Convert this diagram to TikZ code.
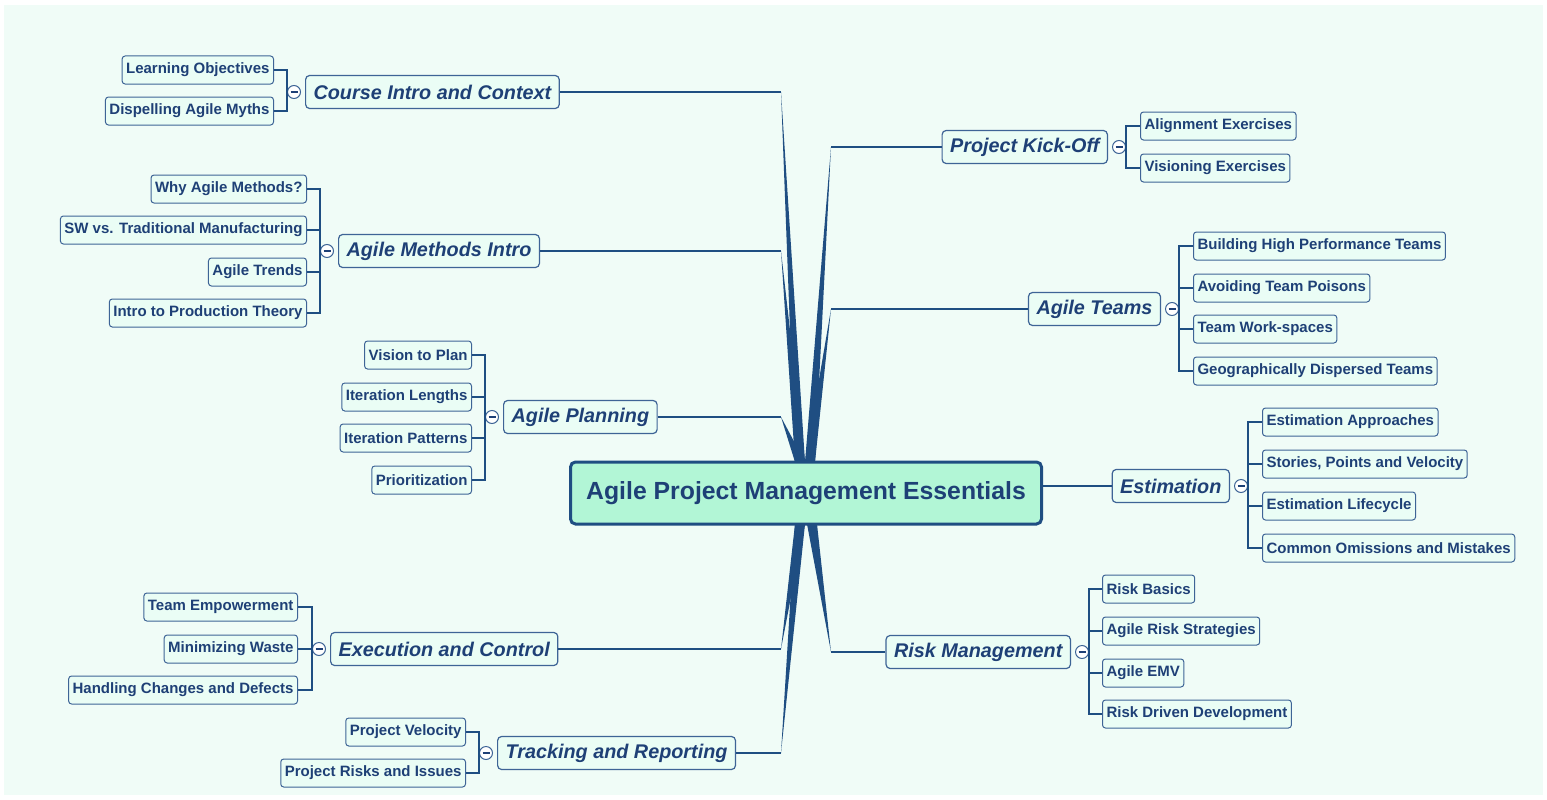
\documentclass[tikz,border=0pt]{standalone}
\usepackage{fontspec}
\setmainfont{Liberation Sans}
\usetikzlibrary{positioning}

\definecolor{mapbg}{RGB}{240,252,247}
\definecolor{mapline}{RGB}{31,78,130}
\definecolor{maptext}{RGB}{30,64,118}
\definecolor{centrefill}{RGB}{178,246,214}
\definecolor{boxfill}{RGB}{234,253,245}
\definecolor{boxline}{RGB}{62,100,150}

% tapering branch from the central topic to an elbow
\newcommand{\taper}[2]{\fill[mapline] ([xshift=-5bp]#1) -- (#2) -- ([xshift=5bp]#1) -- cycle;}

\tikzset{
  centre/.style={draw=mapline, line width=3bp, fill=centrefill, rounded corners=5bp,
    minimum width=471bp, minimum height=62bp, text=maptext,
    font=\fontsize{24.8bp}{28bp}\selectfont\bfseries},
  topic/.style={draw=boxline, line width=1.2bp, fill=boxfill, rounded corners=4bp,
    minimum height=33bp, inner xsep=8bp, text=maptext,
    font=\fontsize{19.8bp}{23bp}\selectfont\bfseries\itshape},
  sub/.style={draw=boxline, line width=1bp, fill=boxfill, rounded corners=3bp,
    minimum height=28bp, inner xsep=4bp, text=maptext,
    font=\fontsize{15bp}{17bp}\selectfont\bfseries},
  fold/.style={circle, draw=boxline, fill=white, line width=1bp, minimum size=13bp, inner sep=0pt,
    path picture={\draw[maptext, line width=1.3bp] ([xshift=-3.5bp]path picture bounding box.center)
      -- ([xshift=3.5bp]path picture bounding box.center);}},
  link/.style={draw=mapline, line width=1.3bp},
}

\begin{document}
\begin{tikzpicture}[x=1bp, y=-1bp]
  \useasboundingbox (0,0) rectangle (1547,799);
  \fill[white] (0,0) rectangle (1547,799);
  \fill[mapbg] (4,5) rectangle (1543,795);

  % central topic
  \node[centre] (apm) at (806,493) {Agile Project Management Essentials};

  % main topics
  \node[topic, anchor=west] (intro) at (305,92) {Course Intro and Context};
  \node[topic, anchor=west] (methods) at (338,251) {Agile Methods Intro};
  \node[topic, anchor=west] (planning) at (503,417) {Agile Planning};
  \node[topic, anchor=west] (execution) at (330,649) {Execution and Control};
  \node[topic, anchor=west] (tracking) at (497,753) {Tracking and Reporting};
  \node[topic, anchor=east] (kickoff) at (1108,147) {Project Kick-Off};
  \node[topic, anchor=east] (teams) at (1161,309) {Agile Teams};
  \node[topic, anchor=east] (estimation) at (1230,486) {Estimation};
  \node[topic, anchor=east] (risk) at (1071,652) {Risk Management};

  \node[fold, left=4bp of intro] (intro-c) {};
  \node[fold, left=4bp of methods] (methods-c) {};
  \node[fold, left=4bp of planning] (planning-c) {};
  \node[fold, left=4bp of execution] (execution-c) {};
  \node[fold, left=4bp of tracking] (tracking-c) {};
  \node[fold, right=4bp of kickoff] (kickoff-c) {};
  \node[fold, right=4bp of teams] (teams-c) {};
  \node[fold, right=4bp of estimation] (estimation-c) {};
  \node[fold, right=4bp of risk] (risk-c) {};

  % branches from the centre
  \coordinate (top-l) at (800,462);
  \coordinate (top-r) at (810,462);
  \coordinate (bot-l) at (800,524);
  \coordinate (bot-r) at (812,524);
  \coordinate (intro-e) at (781,92);
  \coordinate (methods-e) at (781,251);
  \coordinate (planning-e) at (781,417);
  \coordinate (execution-e) at (781,649);
  \coordinate (tracking-e) at (781,753);
  \coordinate (kickoff-e) at (831,147);
  \coordinate (teams-e) at (831,309);
  \coordinate (risk-e) at (831,652);

  \draw[link] (intro.east) -- (intro-e);
  \draw[link] (methods.east) -- (methods-e);
  \draw[link] (planning.east) -- (planning-e);
  \draw[link] (execution.east) -- (execution-e);
  \draw[link] (tracking.east) -- (tracking-e);
  \draw[link] (kickoff.west) -- (kickoff-e);
  \draw[link] (teams.west) -- (teams-e);
  \draw[link] (risk.west) -- (risk-e);
  \draw[link] (estimation.west) -- (estimation.west -| apm.east);
  \taper{top-l}{intro-e}
  \taper{top-l}{methods-e}
  \taper{top-l}{planning-e}
  \taper{top-r}{kickoff-e}
  \taper{top-r}{teams-e}
  \taper{bot-l}{execution-e}
  \taper{bot-l}{tracking-e}
  \taper{bot-r}{risk-e}

  % subtopics
  \foreach \y/\t [count=\i] in {70/Learning Objectives, 111/Dispelling Agile Myths}{
    \node[sub, anchor=east] (intro-\i) at (274,\y) {\t};
    \draw[link] (intro-c.west) |- (intro-\i.east);
  }
  \foreach \y/\t [count=\i] in {189/Why Agile Methods?, 230/SW vs. Traditional Manufacturing,
      272/Agile Trends, 313/Intro to Production Theory}{
    \node[sub, anchor=east] (methods-\i) at (307,\y) {\t};
    \draw[link] (methods-c.west) |- (methods-\i.east);
  }
  \foreach \y/\t [count=\i] in {355/Vision to Plan, 397/Iteration Lengths,
      438/Iteration Patterns, 480/Prioritization}{
    \node[sub, anchor=east] (planning-\i) at (472,\y) {\t};
    \draw[link] (planning-c.west) |- (planning-\i.east);
  }
  \foreach \y/\t [count=\i] in {607/Team Empowerment, 649/Minimizing Waste,
      690/Handling Changes and Defects}{
    \node[sub, anchor=east] (execution-\i) at (298,\y) {\t};
    \draw[link] (execution-c.west) |- (execution-\i.east);
  }
  \foreach \y/\t [count=\i] in {732/Project Velocity, 773/Project Risks and Issues}{
    \node[sub, anchor=east] (tracking-\i) at (466,\y) {\t};
    \draw[link] (tracking-c.west) |- (tracking-\i.east);
  }
  \foreach \y/\t [count=\i] in {126/Alignment Exercises, 168/Visioning Exercises}{
    \node[sub, anchor=west] (kickoff-\i) at (1140,\y) {\t};
    \draw[link] (kickoff-c.east) |- (kickoff-\i.west);
  }
  \foreach \y/\t [count=\i] in {246/Building High Performance Teams, 288/Avoiding Team Poisons,
      329/Team Work-spaces, 371/Geographically Dispersed Teams}{
    \node[sub, anchor=west] (teams-\i) at (1193,\y) {\t};
    \draw[link] (teams-c.east) |- (teams-\i.west);
  }
  \foreach \y/\t [count=\i] in {422/Estimation Approaches, 464/{Stories, Points and Velocity},
      506/Estimation Lifecycle, 548/Common Omissions and Mistakes}{
    \node[sub, anchor=west] (estimation-\i) at (1262,\y) {\t};
    \draw[link] (estimation-c.east) |- (estimation-\i.west);
  }
  \foreach \y/\t [count=\i] in {589/Risk Basics, 631/Agile Risk Strategies,
      673/Agile EMV, 714/Risk Driven Development}{
    \node[sub, anchor=west] (risk-\i) at (1102,\y) {\t};
    \draw[link] (risk-c.east) |- (risk-\i.west);
  }
\end{tikzpicture}
\end{document}
